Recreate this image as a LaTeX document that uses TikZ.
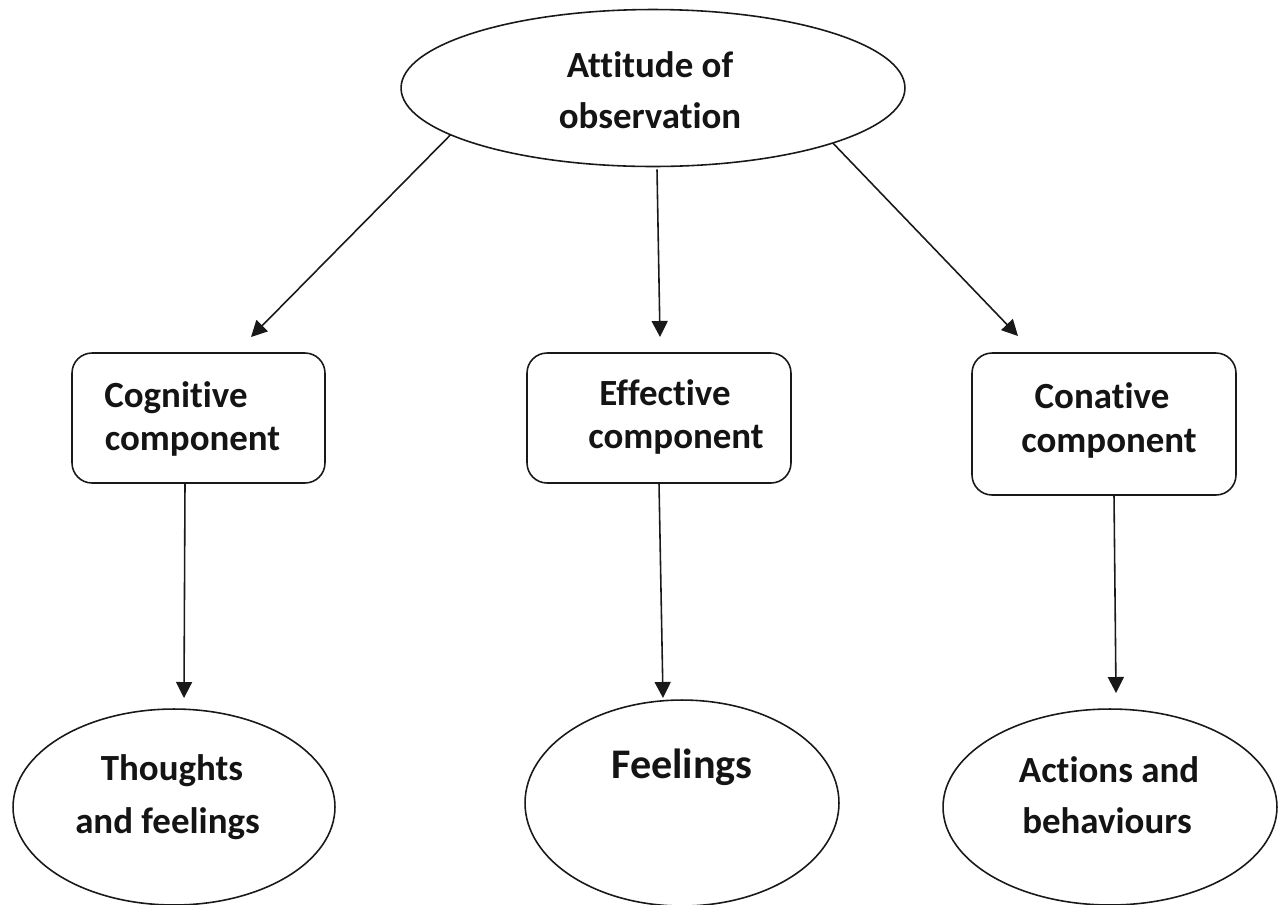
\documentclass[tikz,border=0pt]{standalone}
\usepackage{fontspec}
\setmainfont{Carlito}[Ligatures=NoCommon]
\usetikzlibrary{shapes.geometric,arrows.meta,calc}
\begin{document}
\begin{tikzpicture}[x=0.02cm,y=-0.02cm,
  outline/.style={draw=black!90, line width=0.9pt, outer sep=0pt, inner sep=0pt},
  oval/.style={outline, ellipse},
  card/.style={outline, rectangle, rounded corners=0.4cm},
  lbl/.style={anchor=base, inner sep=0pt, text=black!92,
    font=\bfseries\fontsize{21}{25}\selectfont},
  arr/.style={draw=black!90, line width=0.9pt,
    -{Triangle[length=0.32cm,width=0.32cm]}}]
\useasboundingbox (0,0) rectangle (1281,904);

% shapes
\node[oval, minimum width=10.08cm, minimum height=3.14cm] (top) at (653,88) {};
\node[card, minimum width=5.06cm, minimum height=2.6cm] (cog) at (198.5,418) {};
\node[card, minimum width=5.28cm, minimum height=2.6cm] (eff) at (659,418) {};
\node[card, minimum width=5.28cm, minimum height=2.84cm] (con) at (1104,424) {};
\node[oval, minimum width=6.44cm, minimum height=3.92cm] (tf) at (174,807) {};
\node[oval, minimum width=6.28cm, minimum height=4.12cm] (fe) at (682,803) {};
\node[oval, minimum width=6.68cm, minimum height=3.92cm] (ab) at (1110,807) {};

% labels
\node[lbl] (topA) at (650,77) {Attitude of};
\node[lbl] (topB) at (650,128) {observation};
\node[lbl] (cogA) at (176,407) {Cognitive};
\node[lbl] (cogB) at (192.5,450) {component};
\node[lbl] (effA) at (665,405) {Effective};
\node[lbl] (effB) at (676,448) {component};
\node[lbl] (conA) at (1102,408) {Conative};
\node[lbl] (conB) at (1109,452) {component};
\node[lbl] (tfA) at (172,780) {Thoughts};
\node[lbl] (tfB) at (167.5,833) {and feelings};
\node[lbl, font=\bfseries\fontsize{24}{28}\selectfont] (feA) at (682,778) {Feelings};
\node[lbl] (abA) at (1109,782) {Actions and};
\node[lbl] (abB) at (1107,833) {behaviours};

% arrow tips
\coordinate (tipA) at (251,337);
\coordinate (tipB) at (660,337);
\coordinate (tipC) at (1018,336);
\coordinate (tipD) at (184,698);
\coordinate (tipE) at (663,698);
\coordinate (tipF) at (1116,693);

% connectors
\draw[arr] (top.193) -- (tipA);
\draw[arr] ($(top.south)+(4,3)$) -- (tipB);
\draw[arr] (top.343) -- (tipC);
\draw[arr] ($(cog.south)+(-13.5,0)$) -- (tipD);
\draw[arr] (eff.south) -- (tipE);
\draw[arr] ($(con.south)+(10,0)$) -- (tipF);
\end{tikzpicture}
\end{document}
